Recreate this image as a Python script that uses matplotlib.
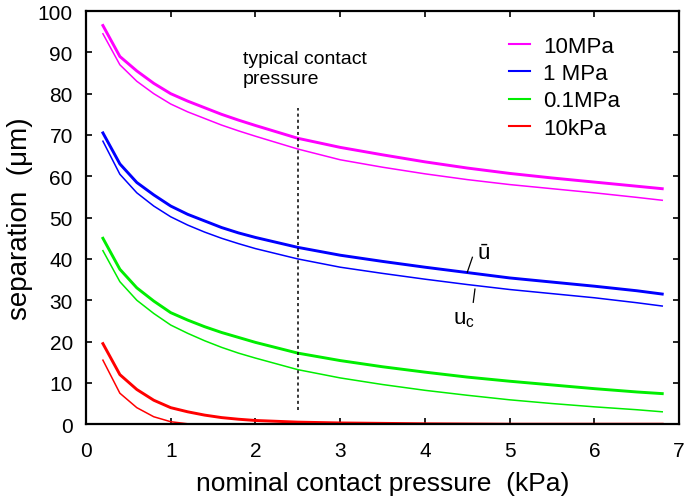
import matplotlib
matplotlib.use("Agg")
import matplotlib.pyplot as plt

plt.rcParams['font.family'] = ['Liberation Sans', 'DejaVu Sans']

# nominal contact pressure (kPa)
x = [0.2, 0.4, 0.6, 0.8, 1.0, 1.2, 1.4, 1.6, 1.8, 2.0, 2.5, 3.0, 3.5, 4.0, 4.5, 5.0, 5.5, 6.0, 6.5, 6.8]

# mean separation u-bar (thick) and u_c (thin), in um
ubar_10mpa = [96.5, 89.0, 85.5, 82.5, 80.0, 78.2, 76.6, 75.0, 73.6, 72.3, 69.2, 67.0, 65.2, 63.5, 62.0, 60.7, 59.6, 58.6, 57.6, 57.0]
uc_10mpa = [94.5, 87.0, 83.0, 80.0, 77.5, 75.6, 74.0, 72.4, 71.0, 69.7, 66.6, 64.0, 62.2, 60.6, 59.2, 58.0, 57.0, 56.0, 54.9, 54.2]
ubar_1mpa = [70.5, 63.0, 58.5, 55.5, 52.8, 50.8, 49.2, 47.6, 46.3, 45.2, 42.8, 40.9, 39.4, 38.0, 36.7, 35.4, 34.4, 33.4, 32.3, 31.5]
uc_1mpa = [68.5, 60.5, 56.0, 52.8, 50.2, 48.2, 46.5, 45.0, 43.7, 42.5, 40.0, 38.0, 36.5, 35.1, 33.8, 32.6, 31.6, 30.6, 29.4, 28.6]
ubar_01mpa = [45.0, 37.5, 33.0, 29.8, 27.0, 25.2, 23.6, 22.2, 21.0, 19.8, 17.2, 15.4, 13.9, 12.6, 11.4, 10.4, 9.5, 8.6, 7.8, 7.4]
uc_01mpa = [42.0, 34.5, 30.0, 26.8, 24.0, 22.0, 20.2, 18.6, 17.2, 16.0, 13.2, 11.2, 9.6, 8.2, 7.0, 5.9, 5.0, 4.2, 3.5, 3.0]
ubar_10kpa = [19.5, 12.0, 8.4, 5.8, 4.0, 3.0, 2.2, 1.6, 1.2, 0.9, 0.5, 0.3, 0.2, 0.1, 0.05, 0.0, 0.0, 0.0, 0.0, 0.0]
uc_10kpa = [15.5, 7.5, 4.0, 1.8, 0.6, 0.1, 0.0, 0.0, 0.0, 0.0, 0.0, 0.0, 0.0, 0.0, 0.0, 0.0, 0.0, 0.0, 0.0, 0.0]

labels = ['10MPa', '1 MPa', '0.1MPa', '10kPa']
colors = ['#ff00ff', '#0000ff', '#00ee00', '#ff0000']
thick = [ubar_10mpa, ubar_1mpa, ubar_01mpa, ubar_10kpa]
thin = [uc_10mpa, uc_1mpa, uc_01mpa, uc_10kpa]

fig = plt.figure(figsize=(6.85, 5.02), dpi=100)
ax = fig.add_axes([0.1255, 0.153, 0.866, 0.823])

for lab, c, yb, yc in zip(labels, colors, thick, thin):
    ax.plot(x, yc, color=c, lw=1.1)
    ax.plot(x, yb, color=c, lw=2.1, label=lab)

# typical contact pressure marker
ax.plot([2.5, 2.5], [3.4, 76.5], color='black', lw=1.1, ls=(0, (2, 2)))
ax.text(1.85, 90.6, 'typical contact\npressure', fontsize=14, va='top', ha='left',
        linespacing=1.25)

# u-bar / u_c labels
ax.plot([4.56, 4.50], [40.4, 36.8], color='black', lw=0.9)
ax.text(4.62, 41.6, 'ū', fontsize=16, va='center', ha='left')
ax.plot([4.59, 4.57], [32.7, 29.5], color='black', lw=0.9)
ax.text(4.33, 25.6, r'$\mathregular{u_c}$', fontsize=16, va='center', ha='left')

ax.set_xlim(0, 7)
ax.set_ylim(0, 100)
ax.set_xticks(range(0, 8))
ax.set_yticks(range(0, 101, 10))
ax.tick_params(direction='in', top=True, right=True, length=4, width=1.2,
               labelsize=15)
ax.tick_params(axis='x', pad=12)
ax.tick_params(axis='y', pad=9.5)
for s in ax.spines.values():
    s.set_linewidth(1.6)

ax.set_xlabel('nominal contact pressure  (kPa)', fontsize=19, labelpad=8)
ax.set_ylabel('separation  (\u03bcm)', fontsize=20, labelpad=3)

leg = ax.legend(loc='upper left', bbox_to_anchor=(0.713, 0.94), frameon=False,
                fontsize=16, handlelength=0.95, handletextpad=0.6,
                labelspacing=0.28, borderaxespad=0, borderpad=0)
for h in leg.get_lines():
    h.set_linewidth(1.5)

fig.savefig('out.png', dpi=100)
